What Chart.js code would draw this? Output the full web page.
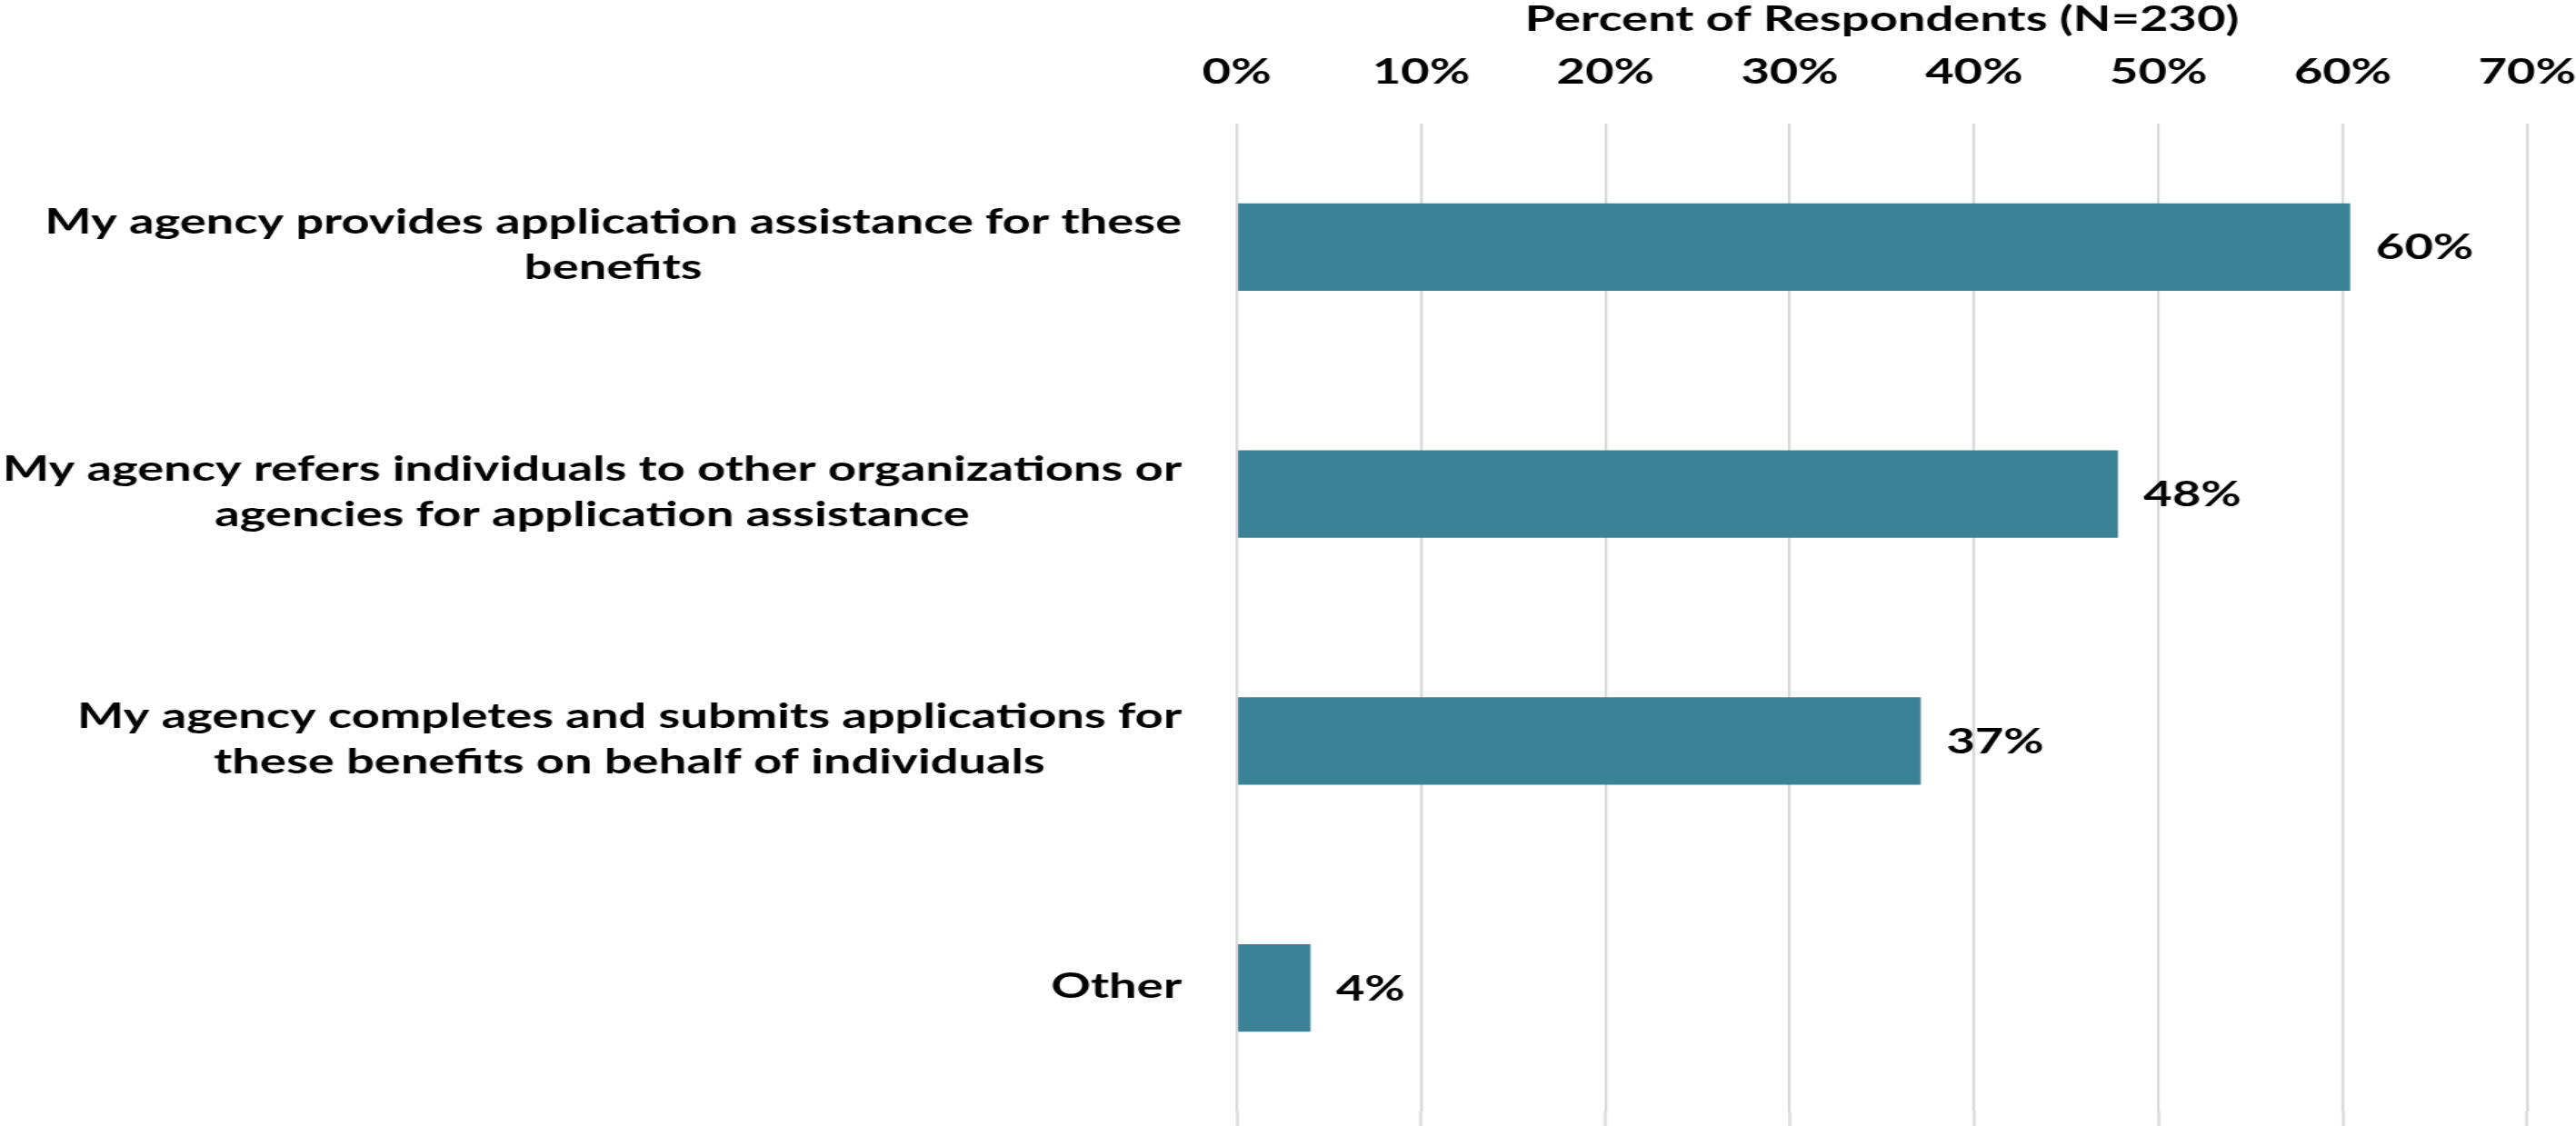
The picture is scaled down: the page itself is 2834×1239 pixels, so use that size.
<!DOCTYPE html>
<html lang="en">
<head>
  <meta charset="UTF-8">
  <title>Application assistance</title>
  <style>
    html, body { margin: 0; padding: 0; background: #ffffff; overflow: hidden; }
    /* the source picture is stretched sideways, so the canvas is drawn narrow and widened by CSS */
    #chart { width: 2834px !important; height: 1239px !important; display: block; }
  </style>
  <script src="https://cdn.jsdelivr.net/npm/chart.js"></script>
</head>
<body>
  <canvas id="chart" width="2010" height="1239" style="width:2834px;height:1239px;"></canvas>

  <script>
    // Category labels (each line of a label is its own string)
    const categories = [
      ['My agency provides application assistance for these', 'benefits'],
      ['My agency refers individuals to other organizations or', 'agencies for application assistance'],
      ['My agency completes and submits applications for', 'these benefits on behalf of individuals'],
      ['Other']
    ];
    // Percent of respondents
    const percentValues = [60.4, 47.8, 37.1, 4.0];
    // Axis range and tick step
    const axisMin = 0;
    const axisMax = 70;
    const axisStep = 10;
    const axisTitle = 'Percent of Respondents (N=230)';

    const FONT = 'bold 38.5px Lato';
    const BAR_COLOR = '#3b8297';
    const GRID_COLOR = '#d9d9d9';
    const PLOT_LEFT = 965;

    // Category labels: lines centred within each label, labels right-aligned
    const categoryLabels = {
      id: 'categoryLabels',
      afterDraw(chart) {
        const ctx = chart.ctx;
        const yScale = chart.scales.y;
        const right = chart.chartArea.left - 43;
        const lineGap = 50;
        ctx.save();
        ctx.font = FONT;
        ctx.fillStyle = '#000000';
        ctx.textAlign = 'center';
        ctx.textBaseline = 'middle';
        categories.forEach((lines, i) => {
          const py = yScale.getPixelForValue(i) - 2;
          const widest = Math.max(...lines.map(l => ctx.measureText(l).width));
          const cx = right - widest / 2;
          const y0 = py - (lines.length - 1) * lineGap / 2;
          lines.forEach((line, j) => ctx.fillText(line, cx, y0 + j * lineGap));
        });
        ctx.restore();
      }
    };

    // Value labels just past the end of each bar
    const valueLabels = {
      id: 'valueLabels',
      afterDatasetsDraw(chart) {
        const ctx = chart.ctx;
        const meta = chart.getDatasetMeta(0);
        ctx.save();
        ctx.font = FONT;
        ctx.fillStyle = '#000000';
        ctx.textAlign = 'left';
        ctx.textBaseline = 'middle';
        meta.data.forEach((bar, i) => {
          ctx.fillText(Math.round(percentValues[i]) + '%', bar.x + 20, bar.y + 1);
        });
        ctx.restore();
      }
    };

    const ctx = document.getElementById('chart').getContext('2d');
    new Chart(ctx, {
      type: 'bar',
      data: {
        labels: categories,
        datasets: [{
          data: percentValues,
          backgroundColor: BAR_COLOR,
          borderWidth: 0,
          barPercentage: 0.355,
          categoryPercentage: 1.0,
          xAxisID: 'x',
          yAxisID: 'y'
        }]
      },
      options: {
        indexAxis: 'y',
        responsive: false,
        devicePixelRatio: 1,
        animation: false,
        layout: { padding: { left: 0, right: 35, top: 0, bottom: 0 } },
        plugins: {
          legend: { display: false },
          tooltip: { enabled: false }
        },
        scales: {
          x: {
            position: 'top',
            min: axisMin,
            max: axisMax,
            border: { display: false },
            grid: { color: GRID_COLOR, lineWidth: 2.2, drawTicks: false },
            ticks: {
              stepSize: axisStep,
              padding: 0,
              color: '#000000',
              // tall line box instead of tick padding keeps the right edge free
              font: { family: 'Lato', weight: 'bold', size: 38.5, lineHeight: '113px' },
              callback: v => v + '%'
            },
            title: {
              display: true,
              text: axisTitle,
              color: '#000000',
              font: { family: 'Lato', weight: 'bold', size: 38.5, lineHeight: '2px' },
              padding: { top: 21, bottom: 0 }
            }
          },
          // bottom axis only carries short tick marks so the grid runs to the edge
          x2: {
            position: 'bottom',
            min: axisMin,
            max: axisMax,
            border: { display: false },
            grid: {
              drawOnChartArea: false,
              drawTicks: true,
              tickLength: 16,
              tickColor: GRID_COLOR,
              tickWidth: 2.2
            },
            ticks: { display: false, stepSize: axisStep }
          },
          y: {
            type: 'category',
            border: { display: false },
            grid: { display: false },
            ticks: { display: false },
            afterFit: scale => { scale.width = PLOT_LEFT; }
          }
        }
      },
      plugins: [categoryLabels, valueLabels]
    });
  </script>
</body>
</html>
